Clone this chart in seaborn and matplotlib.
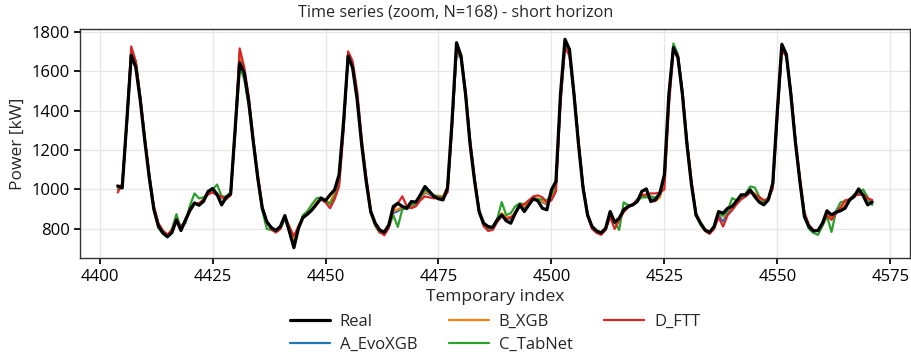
import numpy as np
import pandas as pd
import matplotlib
matplotlib.use("Agg")
import matplotlib.pyplot as plt
import seaborn as sns

start_index = 4404
real = [1018,1008,1340,1680,1620,1450,1245,1058,900,815,780,760,782,846,792,846,897,932,920,940,990,1005,975,922,
        960,978,1312,1642,1592,1447,1244,1058,905,837,807,792,812,868,787,705,803,858,875,897,925,956,944,973,
        998,1075,1346,1676,1617,1456,1227,1041,888,829,795,783,820,914,930,914,905,939,936,973,1015,990,964,953,
        947,1007,1346,1744,1676,1481,1227,1041,888,829,812,808,846,871,841,829,880,922,888,922,953,942,905,897,
        998,1041,1481,1761,1710,1481,1227,1007,871,812,790,780,803,888,834,854,897,914,922,939,990,1003,939,947,
        981,1075,1481,1719,1668,1481,1227,1024,871,830,795,783,812,888,880,905,914,942,973,973,998,964,936,922,
        947,1032,1397,1736,1685,1481,1240,1041,863,812,790,792,829,892,871,885,892,905,947,964,1003,969,922,936]

a_evoxgb = [1010,1015,1330,1695,1630,1460,1255,1065,905,822,785,765,790,840,815,838,890,925,925,945,985,1000,978,955,
            958,975,1290,1685,1600,1450,1250,1065,910,830,800,790,805,860,810,760,810,860,878,900,930,950,935,930,
            975,1040,1330,1680,1620,1460,1235,1050,890,825,790,782,815,880,890,905,900,915,925,950,985,975,965,965,
            960,1000,1320,1700,1660,1480,1235,1045,885,822,800,805,840,875,855,850,880,915,910,930,950,950,935,925,
            960,1020,1450,1730,1675,1475,1230,1010,870,805,788,780,800,870,830,850,895,915,920,945,970,965,955,950,
            970,1040,1460,1715,1670,1480,1230,1030,870,825,795,782,808,870,837,880,905,935,955,965,985,975,950,935,
            950,1020,1380,1715,1670,1480,1240,1045,870,812,790,790,825,875,863,880,900,920,945,965,985,975,945,930]

b_xgb = [1005,1030,1335,1705,1635,1455,1250,1070,910,825,790,768,785,848,805,842,895,930,928,948,990,998,975,960,
         955,970,1295,1695,1605,1455,1245,1068,908,832,802,788,808,855,815,745,815,862,880,902,935,955,940,935,
         980,1050,1335,1685,1625,1465,1240,1055,895,830,795,785,818,890,900,910,905,920,930,955,990,980,970,968,
         965,1015,1330,1705,1665,1485,1240,1048,890,825,805,808,845,880,860,858,885,920,915,935,955,955,938,930,
         965,1025,1460,1740,1680,1480,1235,1015,875,810,790,782,805,875,840,855,890,915,925,940,975,970,950,940,
         960,1045,1465,1720,1675,1485,1235,1035,875,828,798,785,810,880,863,895,910,938,960,970,990,980,955,940,
         955,1025,1385,1720,1675,1485,1245,1050,875,815,792,792,828,880,855,885,905,925,950,970,990,980,950,935]

c_tabnet = [1000,1020,1320,1690,1650,1470,1260,1050,895,805,775,762,800,875,800,830,920,980,955,960,980,1000,1025,965,
            965,985,1280,1620,1560,1420,1240,1050,895,800,795,785,800,850,790,720,800,870,890,925,955,960,945,925,
            965,1030,1320,1670,1615,1470,1245,1040,880,815,780,780,810,870,810,900,905,925,930,960,1000,985,970,965,
            960,990,1340,1695,1670,1490,1240,1050,880,815,800,810,850,936,870,880,915,930,925,945,955,950,950,945,
            975,1030,1470,1745,1690,1490,1240,1020,875,805,785,775,800,870,835,795,935,920,925,940,960,960,965,960,
            975,1050,1470,1740,1685,1495,1240,1035,870,820,790,780,805,875,870,890,956,945,960,980,1015,1010,965,940,
            955,1030,1395,1725,1680,1490,1250,1040,860,800,780,770,815,865,785,890,935,940,950,975,985,1000,960,922]

d_ftt = [985,1025,1345,1725,1650,1470,1265,1075,915,830,792,772,795,850,808,840,890,928,930,950,975,985,970,965,
         950,972,1305,1715,1620,1470,1260,1075,915,835,798,782,800,865,808,765,812,855,873,895,925,950,935,905,
         950,1015,1300,1700,1650,1500,1260,1065,895,820,785,768,805,900,930,965,915,905,915,945,965,960,955,960,
         955,985,1310,1715,1670,1500,1255,1060,895,815,790,795,835,865,850,860,875,920,925,945,965,970,960,935,
         945,990,1430,1720,1680,1495,1245,1020,865,800,780,770,795,860,800,845,885,910,925,950,970,975,980,980,
         985,1000,1420,1705,1680,1500,1250,1045,880,830,790,775,800,860,812,870,895,925,950,965,985,975,960,947,
         950,1005,1360,1700,1680,1500,1260,1060,885,820,795,790,825,870,846,880,910,945,950,970,973,975,955,947]

series_names = ["A_EvoXGB", "B_XGB", "C_TabNet", "D_FTT"]
series_colors = ["#1f77b4", "#ff7f0e", "#2ca02c", "#d62728"]

idx = np.arange(start_index, start_index + len(real))

sns.set_theme(style="ticks")
plt.rcParams["font.family"] = ["Open Sans", "DejaVu Sans"]

fig = plt.figure(figsize=(9.11, 3.57), dpi=100)
ax = fig.add_axes([0.0878, 0.277, 0.911, 0.642])

preds = [a_evoxgb, b_xgb, c_tabnet, d_ftt]
for name, vals, col in zip(series_names, preds, series_colors):
    sns.lineplot(x=idx, y=vals, ax=ax, color=col, linewidth=1.6, label=name, zorder=2)
sns.lineplot(x=idx, y=real, ax=ax, color="black", linewidth=2.3, label="Real", zorder=3)

h, l = ax.get_legend_handles_labels()
order = [l.index(n) for n in ["Real", "A_EvoXGB", "B_XGB", "C_TabNet", "D_FTT"]]
ax.legend([h[i] for i in order], [l[i] for i in order], ncol=3, frameon=False,
          loc="upper center", bbox_to_anchor=(0.5, -0.228), fontsize=12,
          columnspacing=1.9, handlelength=2.4, handletextpad=0.6,
          labelspacing=0.42, borderaxespad=0, borderpad=0.2)

ax.set_xticks(np.arange(4400, 4576, 25))
ax.set_yticks(np.arange(800, 1801, 200))
ax.grid(True, color="#e6e6e6", linewidth=0.9)
ax.set_axisbelow(True)
for s in ax.spines.values():
    s.set_color("#333333")
    s.set_linewidth(1.0)
ax.tick_params(labelsize=12, colors="black", length=4)
ax.set_xlabel("Temporary index", fontsize=12.5, labelpad=3)
ax.set_ylabel("Power [kW]", fontsize=12.5, labelpad=4)
fig.text(0.5, 0.966, "Time series (zoom, N=168) - short horizon", fontsize=11.7,
         ha="center", va="center")

fig.savefig("out.png", dpi=100)
